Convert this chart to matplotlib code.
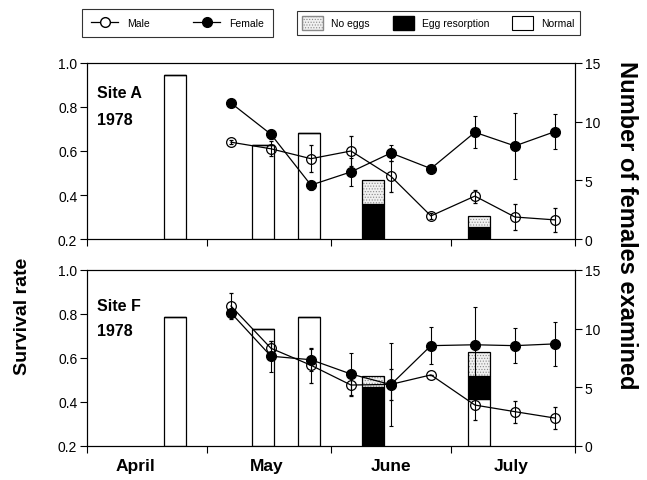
import matplotlib.pyplot as plt
import matplotlib.lines as mlines
import matplotlib.patches as mpatches
import numpy as np

plt.rcParams['font.family'] = 'sans-serif'
plt.rcParams['font.sans-serif'] = ['Liberation Sans', 'DejaVu Sans']
plt.rcParams['hatch.linewidth'] = 0.5

# Sampling dates (days after 1 April 1978)
sample_day = [36, 46, 56, 66, 76, 86, 97, 107, 117]
bar_day = [22, 44, 55.5, 71.5, 98]

month_names = ['April', 'May', 'June', 'July']
month_start = [0, 30, 61, 91, 122]
month_mid = [12, 45, 76, 106]

# Site A: survival rates (mean, error)
male_a = [0.64, 0.61, 0.565, 0.60, 0.485, 0.305, 0.395, 0.30, 0.287]
male_a_err = [0.01, 0.035, 0.06, 0.07, 0.07, 0.015, 0.03, 0.06, 0.055]
female_a = [0.818, 0.676, 0.445, 0.505, 0.591, 0.52, 0.685, 0.623, 0.688]
female_a_err = [0.0, 0.02, 0.02, 0.065, 0.035, 0.0, 0.073, 0.15, 0.08]
# Site A: females examined
normal_a = [14, 8, 9, 0, 0]
resorb_a = [0, 0, 0, 3, 1]
no_eggs_a = [0, 0, 0, 2, 1]

# Site F: survival rates (mean, error)
male_f = [0.836, 0.644, 0.567, 0.477, 0.48, 0.523, 0.386, 0.356, 0.327]
male_f_err = [0.06, 0.035, 0.08, 0.05, 0.07, 0.0, 0.07, 0.05, 0.05]
female_f = [0.805, 0.608, 0.592, 0.527, 0.479, 0.656, 0.66, 0.656, 0.664]
female_f_err = [0.01, 0.07, 0.05, 0.095, 0.19, 0.085, 0.17, 0.08, 0.10]
# Site F: females examined
normal_f = [11, 10, 11, 0, 4]
resorb_f = [0, 0, 0, 5, 2]
no_eggs_f = [0, 0, 0, 1, 2]

STIPPLE = dict(color='#f0f0f0', edgecolor='#8a8a8a', hatch='......', linewidth=0)
BAR_W = 5.4
LW = 0.9


def draw_site(ax, name, male, male_err, female, female_err,
              normal, resorb, no_eggs, text_y, show_months):
    '''Survival rates on the left axis, stacked counts of females on the right.'''
    ax2 = ax.twinx()
    ax.set_zorder(ax2.get_zorder() + 1)
    ax.patch.set_visible(False)

    lower = np.array(normal)
    middle = lower + np.array(resorb)
    ax2.bar(bar_day, normal, width=BAR_W, color='white', edgecolor='black', linewidth=LW)
    ax2.bar(bar_day, resorb, width=BAR_W, bottom=lower, color='black',
            edgecolor='black', linewidth=LW)
    ax2.bar(bar_day, no_eggs, width=BAR_W, bottom=middle, **STIPPLE)
    ax2.bar(bar_day, no_eggs, width=BAR_W, bottom=middle, fill=False,
            edgecolor='black', linewidth=LW)
    ax2.set_ylim(0, 15)
    ax2.set_yticks([0, 5, 10, 15])

    ax.errorbar(sample_day, male, yerr=male_err, fmt='-o', color='black',
                mfc='none', mec='black', ms=7, mew=0.9, lw=LW,
                elinewidth=0.8, capsize=1.6, capthick=0.8)
    ax.errorbar(sample_day, female, yerr=female_err, fmt='-o', color='black',
                mfc='black', ms=7, lw=LW, elinewidth=0.8, capsize=1.6, capthick=0.8)

    ax.set_ylim(0.2, 1.0)
    ax.set_yticks([0.2, 0.4, 0.6, 0.8, 1.0])
    ax.set_xlim(month_start[0], month_start[-1])
    ax.set_xticks(month_start)
    ax.set_xticklabels([])
    if show_months:
        ax.set_xticks(month_mid, minor=True)
        ax.set_xticklabels(month_names, minor=True, fontsize=12.5, fontweight='bold')
        ax.tick_params(axis='x', which='minor', length=0, pad=9)

    for a in (ax, ax2):
        a.tick_params(which='major', direction='out', length=5, width=0.8,
                      labelsize=10, pad=2)
        for s in a.spines.values():
            s.set_linewidth(0.8)

    ax.text(0.02, text_y[0], name, transform=ax.transAxes,
            fontsize=11.5, fontweight='bold', va='center')
    ax.text(0.02, text_y[1], '1978', transform=ax.transAxes,
            fontsize=11.5, fontweight='bold', va='center')


fig = plt.figure(figsize=(6.47, 4.81), dpi=100)
ax_a = fig.add_axes([0.1345, 0.501, 0.754, 0.366])
ax_f = fig.add_axes([0.1345, 0.0707, 0.754, 0.366])

draw_site(ax_a, 'Site A', male_a, male_a_err, female_a, female_a_err,
          normal_a, resorb_a, no_eggs_a, (0.83, 0.68), False)
draw_site(ax_f, 'Site F', male_f, male_f_err, female_f, female_f_err,
          normal_f, resorb_f, no_eggs_f, (0.80, 0.655), True)

fig.text(23 / 647, 1 - 316 / 481, 'Survival rate', rotation=90,
         fontsize=14, fontweight='bold', ha='center', va='center')
fig.text(626 / 647, 1 - 225 / 481, 'Number of females examined', rotation=-90,
         fontsize=17, fontweight='bold', ha='center', va='center')

# Legends above the panels
male_h = mlines.Line2D([], [], color='black', marker='o', mfc='white', ms=7, lw=LW)
female_h = mlines.Line2D([], [], color='black', marker='o', mfc='black', ms=7, lw=LW)
leg1 = fig.legend([male_h, female_h], ['Male', 'Female'], loc='center',
                  bbox_to_anchor=(82 / 647, 1 - 39 / 481, 191 / 647, 30 / 481),
                  mode='expand', ncol=2, fancybox=False, edgecolor='black',
                  fontsize=7.5, handlelength=2.6, borderpad=0.9, borderaxespad=0)
leg1.get_frame().set_linewidth(0.8)

patches = [mpatches.Patch(facecolor='#f0f0f0', edgecolor='#8a8a8a', hatch='......'),
           mpatches.Patch(facecolor='black', edgecolor='black'),
           mpatches.Patch(facecolor='white', edgecolor='black', linewidth=0.8)]
leg2 = fig.legend(patches, ['No eggs', 'Egg resorption', 'Normal'], loc='center',
                  bbox_to_anchor=(297 / 647, 1 - 39 / 481, 283 / 647, 30 / 481),
                  mode='expand', ncol=3, fancybox=False, edgecolor='black',
                  fontsize=7.5, handlelength=2.0, handleheight=1.6,
                  borderpad=0.5, borderaxespad=0)
leg2.get_frame().set_linewidth(0.8)

fig.savefig('out.png', dpi=100)
